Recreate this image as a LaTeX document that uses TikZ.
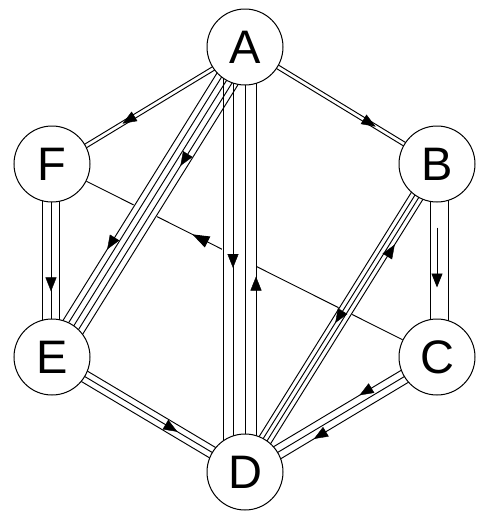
\documentclass[tikz,border=0pt]{standalone}
\usepackage{fontspec}
\setmainfont{Liberation Sans}
\usetikzlibrary{calc,arrows.meta,decorations.markings}
\pgfdeclarelayer{fcline}
\pgfdeclarelayer{stripfill}
\pgfdeclarelayer{striplines}
\pgfsetlayers{fcline,stripfill,striplines,main}
\tikzset{
  vert/.style={circle, draw, line width=1pt, fill=white, minimum size=76pt, inner sep=0pt,
    font=\fontsize{47}{47}\selectfont},
  edgeline/.style={line width=0.95pt, black},
  tipA/.tip={Triangle[length=14pt,width=11pt]},
  tipB/.tip={Triangle[length=17pt,width=12pt]},
}
% #1 from, #2 to, #3 centre offset, #4 strip width, #5 line offsets
\newcommand\edgestrip[5]{%
  \begin{pgfonlayer}{stripfill}
    \draw[white, line width=#4pt] ($(#1)!#3pt!90:(#2)$) -- ($(#2)!#3pt!-90:(#1)$);
  \end{pgfonlayer}
  \begin{pgfonlayer}{striplines}
    \foreach \o in {#5} {
      \draw[edgeline] ($(#1)!\o pt!90:(#2)$) -- ($(#2)!\o pt!-90:(#1)$);
    }
  \end{pgfonlayer}
}
% #1 from, #2 to, #3 offset, #4 position, #5 arrow command
\newcommand\edgetip[5]{%
  \path[decorate, decoration={markings, mark=at position #4 with {#5}}]
    ($(#1)!#3pt!90:(#2)$) -- ($(#2)!#3pt!-90:(#1)$);
}
\begin{document}
\begin{tikzpicture}[x=1pt,y=-1pt]
\useasboundingbox (0,0) rectangle (481,520);
\begin{pgfonlayer}{fcline}
  \fill[white] (0,0) rectangle (481,520);
\end{pgfonlayer}

\node[vert] (A) at (245,47) {A};
\node[vert] (B) at (437,164) {B};
\node[vert] (C) at (437,357) {C};
\node[vert] (D) at (245,472) {D};
\node[vert] (E) at (52,357) {E};
\node[vert] (F) at (52,164) {F};

% single line F--C (behind the strips)
\begin{pgfonlayer}{fcline}
  \draw[edgeline, postaction={decorate}, decoration={markings, mark=at position 0.665 with {\arrow{tipB}}}] (C) -- (F);
\end{pgfonlayer}

% strips
\edgestrip{A}{F}{2}{6}{0,4}
\edgestrip{A}{B}{0}{6}{-2,2}
\edgestrip{A}{E}{2}{26}{-10,-4,2,8,14}
\edgestrip{A}{D}{-5.5}{35}{-22,-12,0,11}
\edgestrip{F}{E}{-1}{19}{-9.5,-1,7.5}
\edgestrip{B}{C}{2}{20}{-7,11}
\edgestrip{B}{D}{0}{15}{-6.75,-2.25,2.25,6.75}
\edgestrip{C}{D}{0}{16}{-7,0,7}
\edgestrip{E}{D}{0}{14}{-6,0,6}

% arrow heads
\edgetip{A}{F}{2}{0.64}{\arrow{tipA}}
\edgetip{A}{B}{0}{0.68}{\arrow{tipA}}
\edgetip{A}{E}{8}{0.37}{\arrow{tipA}}
\edgetip{A}{E}{-10}{0.67}{\arrow{tipA}}
\edgetip{A}{D}{-12}{0.52}{\arrow{tipA}}
\edgetip{A}{D}{11}{0.54}{\arrowreversed{tipA}}
\edgetip{F}{E}{-1}{0.66}{\arrow{tipA}}
\edgetip{B}{D}{6.75}{0.25}{\arrowreversed{tipA}}
\edgetip{B}{D}{-2.25}{0.52}{\arrow{tipA}}
\edgetip{C}{D}{-7}{0.385}{\arrow{tipA}}
\edgetip{C}{D}{7}{0.66}{\arrow{tipA}}
\edgetip{E}{D}{0}{0.65}{\arrow{tipA}}
\draw[edgeline, -{tipA}] ($(B)!0.33!(C)$) -- ($(B)!0.64!(C)$);
\end{tikzpicture}
\end{document}
